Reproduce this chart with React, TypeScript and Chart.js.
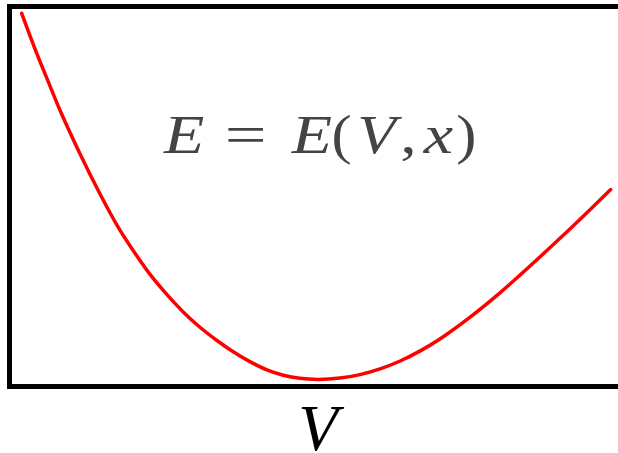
import React, { useEffect, useRef } from "react";
import { Chart, registerables } from "chart.js";

Chart.register(...registerables);

// Volume (arbitrary units) and energy (arbitrary units) along the E(V) curve
const volume = [
  2.0, 4.2, 6.2, 8.3, 11.6, 14.9, 17.8, 21.0, 23.1, 25.6, 28.5, 31.3, 34.1, 36.7, 39.5, 42.3,
  45.0, 47.7, 50.7, 54.3, 57.6, 60.9, 64.2, 67.5, 70.8, 75.7, 80.6, 85.5, 88.8, 92.1, 95.4, 98.8,
];
const energy = [
  98.2, 88.8, 80.9, 72.7, 61.2, 50.6, 42.1, 34.2, 29.5, 24.7, 19.7, 15.6, 12.1, 9.2, 6.55, 4.39,
  2.97, 2.16, 1.87, 2.21, 3.13, 4.63, 6.71, 9.37, 12.58, 18.24, 24.63, 31.63, 36.5, 41.45, 46.5, 51.84,
];

const xLabel = "V";
// Equation glyphs: [text, italic, centre offset from the equation centre in em, horizontal stretch]
const equation: [string, boolean, number, number][] = [
  ["E", true, -2.4, 1.2],
  ["=", false, -1.28, 1.35],
  ["E", true, -0.08, 1.2],
  ["(", false, 0.46, 1.1],
  ["V", true, 1.1, 1.15],
  [",", false, 1.68, 1.2],
  ["x", true, 2.22, 1.2],
  [")", false, 2.73, 1.1],
];

const SERIF = '"Liberation Serif", "DejaVu Serif", serif';

const framePlugin = {
  id: "frameAndText",
  afterDraw(chart: Chart) {
    const { ctx, chartArea } = chart;
    const { left, top, right, bottom } = chartArea;
    ctx.save();
    // open frame: left, top and bottom edges
    ctx.strokeStyle = "#000";
    ctx.lineWidth = 5;
    ctx.lineCap = "square";
    ctx.beginPath();
    ctx.moveTo(right + 5, top);
    ctx.lineTo(left, top);
    ctx.lineTo(left, bottom);
    ctx.lineTo(right + 5, bottom);
    ctx.stroke();

    // equation text inside the plot
    const size = 55;
    ctx.fillStyle = "#444444";
    ctx.textBaseline = "alphabetic";
    ctx.textAlign = "center";
    const cx = left + (right - left) * 0.504;
    const baseY = top + (bottom - top) * 0.385;
    for (const [t, it, off, stretch] of equation) {
      ctx.font = `${it ? "italic " : ""}${size}px ${SERIF}`;
      ctx.save();
      ctx.translate(cx + off * size, baseY);
      ctx.scale(stretch, 1);
      ctx.fillText(t, 0, 0);
      ctx.restore();
    }

    // axis label
    ctx.fillStyle = "#000";
    ctx.font = `italic 65px ${SERIF}`;
    ctx.textAlign = "center";
    ctx.fillText(xLabel, left + (right - left) * 0.507, bottom + 63);
    ctx.restore();
  },
};

export default function App() {
  const ref = useRef<HTMLCanvasElement>(null);

  useEffect(() => {
    document.body.style.margin = "0";
    const canvas = ref.current;
    if (!canvas) return;
    const chart = new Chart(canvas, {
      type: "line",
      data: {
        datasets: [
          {
            data: volume.map((v, i) => ({ x: v, y: energy[i] })),
            borderColor: "#ff0000",
            borderWidth: 3.5,
            pointRadius: 0,
            fill: false,
            cubicInterpolationMode: "monotone",
            borderCapStyle: "round",
          },
        ],
      },
      options: {
        responsive: false,
        animation: false,
        layout: { padding: { left: 9.5, top: 6.5, right: 0, bottom: 66.5 } },
        plugins: { legend: { display: false }, tooltip: { enabled: false } },
        scales: {
          x: { type: "linear", min: 0, max: 100, display: false },
          y: { type: "linear", min: 0, max: 100, display: false },
        },
      },
      plugins: [framePlugin],
    });
    return () => chart.destroy();
  }, []);

  return (
    <div style={{ position: "fixed", left: 0, top: 0, width: 618, height: 453, background: "#fff" }}>
      <canvas ref={ref} width={618} height={453} />
    </div>
  );
}
